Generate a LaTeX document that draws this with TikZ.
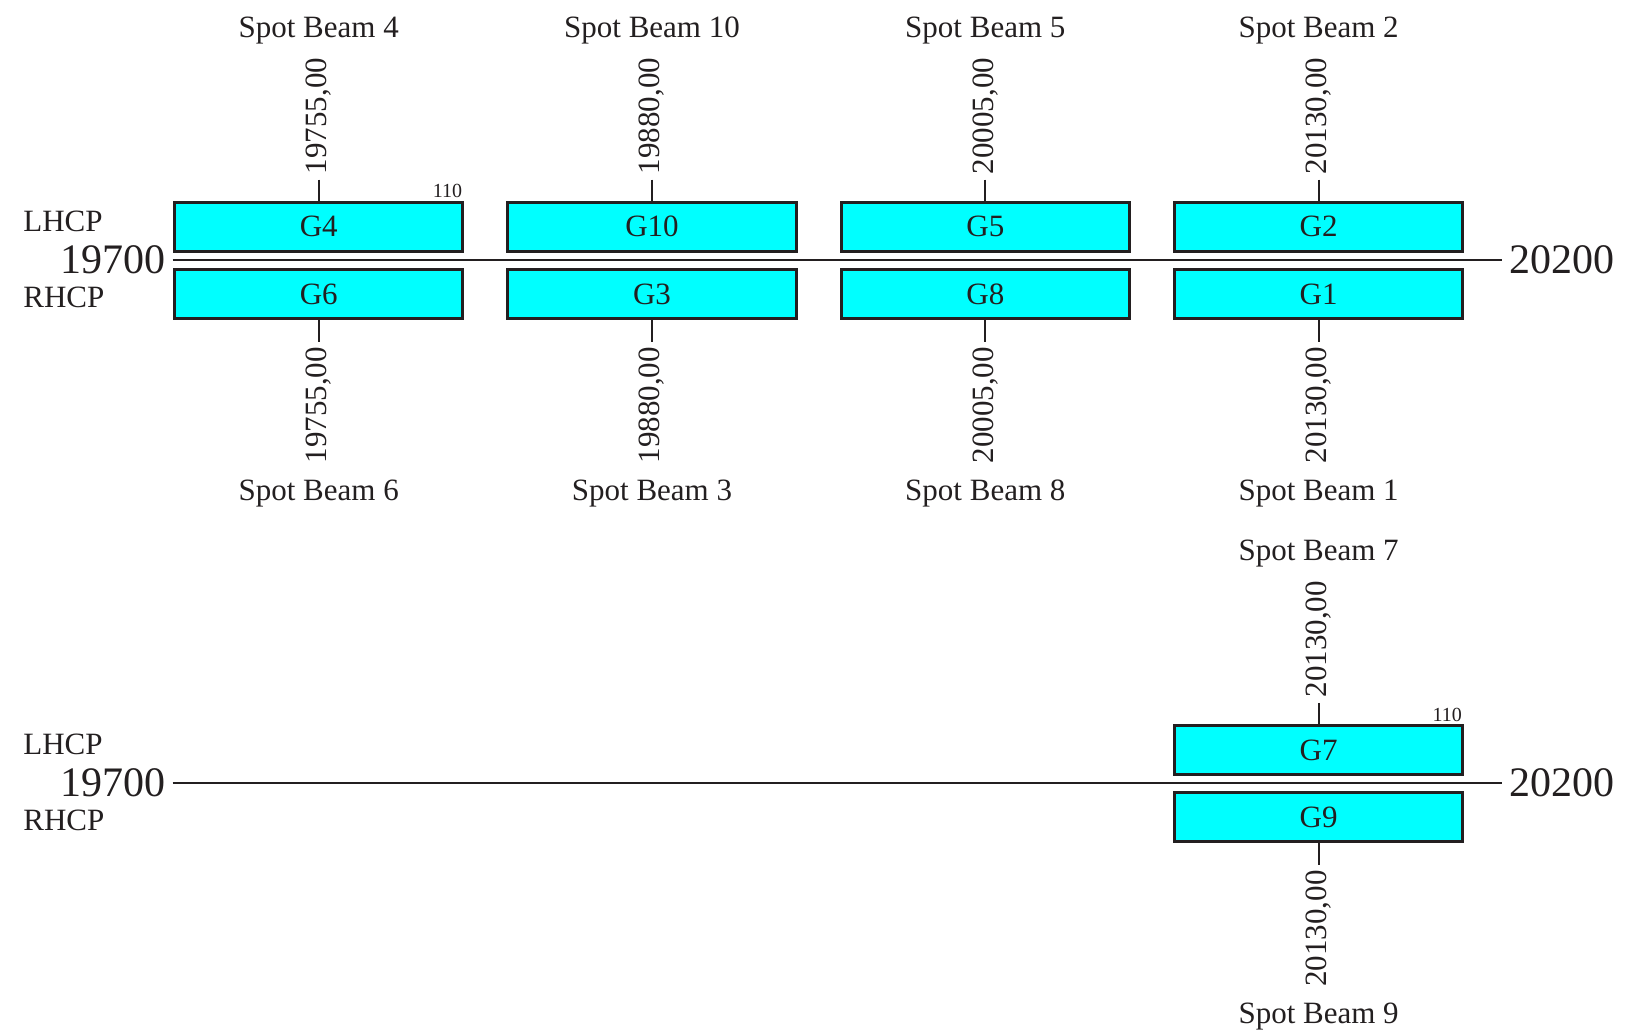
\documentclass[tikz,border=0pt]{standalone}
\usepackage{fontspec}
\setmainfont{Liberation Serif}
\definecolor{ink}{HTML}{231F20}
\definecolor{chcyan}{HTML}{00FFFF}
\tikzset{
  chbox/.style={draw=ink, fill=chcyan, line width=1.5pt, minimum width=144.25pt,
    minimum height=24.4pt, inner sep=0pt, font=\fontsize{15.5}{18}\selectfont, text=ink},
  chtick/.style={draw=ink, line width=0.9pt},
  axisline/.style={draw=ink, line width=1.15pt},
  freqlab/.style={rotate=90, inner xsep=2.5pt, inner ysep=0pt, font=\fontsize{15.5}{18}\selectfont, text=ink},
  beamlab/.style={anchor=base, inner sep=0pt, font=\fontsize{15.5}{18}\selectfont, text=ink},
  pollab/.style={anchor=base west, inner sep=0pt, font=\fontsize{15.5}{18}\selectfont, text=ink},
  biglab/.style={inner sep=0pt, font=\fontsize{21}{25}\selectfont, text=ink},
  smalllab/.style={anchor=base east, inner sep=0pt, font=\fontsize{10}{12}\selectfont, text=ink}
}
% #1 x, #2 y offset, #3 id, #4 upper number, #5 lower number, #6 frequency
\newcommand\chcol[6]{%
  \node[chbox] (u#3) at (#1,{#2+226.8}) {G#4};
  \node[chbox] (d#3) at (#1,{#2+293.9}) {G#5};
  \coordinate (tu#3) at (#1,{#2+179.5});
  \coordinate (td#3) at (#1,{#2+341.7});
  \draw[chtick] (tu#3) -- (u#3);
  \draw[chtick] (d#3) -- (td#3);
  \node[freqlab, anchor=west] (fu#3) at (tu#3) {#6};
  \node[freqlab, anchor=east] (fd#3) at (td#3) {#6};
  \node[beamlab] (su#3) at (#1,{#2+37}) {Spot Beam #4};
  \node[beamlab] (sd#3) at (#1,{#2+500}) {Spot Beam #5};
}
% #1 y offset, #2 id
\newcommand\chaxis[2]{%
  \coordinate (la#2) at (172.5,{#1+260});
  \coordinate (lb#2) at (1501.5,{#1+260});
  \draw[axisline] (la#2) -- (lb#2);
  \node[biglab, anchor=base east] (fa#2) at (166,{#1+273}) {19700};
  \node[biglab, anchor=base west] (fb#2) at (1509,{#1+273}) {20200};
  \node[pollab] (lh#2) at (23,{#1+231}) {LHCP};
  \node[pollab] (rh#2) at (23,{#1+307}) {RHCP};
}
\begin{document}
\begin{tikzpicture}[x=0.5pt, y=-0.5pt]
  \useasboundingbox (0,0) rectangle (1626,1033);
  \chaxis{0}{A}
  \chaxis{523.3}{B}
  \chcol{318.7}{0}{a}{4}{6}{19755,00}
  \chcol{652}{0}{b}{10}{3}{19880,00}
  \chcol{985.3}{0}{c}{5}{8}{20005,00}
  \chcol{1318.6}{0}{d}{2}{1}{20130,00}
  \chcol{1318.6}{523.3}{e}{7}{9}{20130,00}
  \node[smalllab] (wa) at ([xshift=-1pt,yshift=1.5pt]ua.north east) {110};
  \node[smalllab] (we) at ([xshift=-1pt,yshift=1.5pt]ue.north east) {110};
\end{tikzpicture}
\end{document}
